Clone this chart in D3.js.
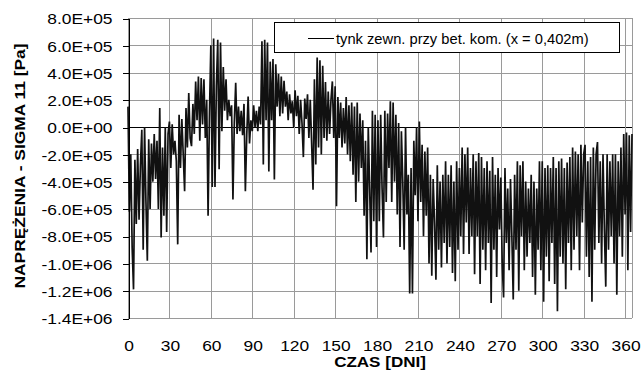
<!DOCTYPE html>
<html>
<head>
<meta charset="utf-8">
<script src="https://cdn.jsdelivr.net/npm/d3@7"></script>
<style>
  body { margin: 0; background: #fff; }
  text { font-family: "Liberation Sans", Arial, sans-serif; fill: #000; }
</style>
</head>
<body>
<div id="chart"></div>
<script>
// stress sigma 11, one reading per day (day = index), in units of 1e5 Pa
const sigmaE5 = [
  1.5, -6.2, -2.0, -8.8, -11.9, -2.4, -7.1, -1.6, -6.8, -2.8,
  -0.2, -9.0, 0.0, -5.5, -9.8, -0.9, -6.0, -1.2, -4.0, -0.5,
  -3.8, -1.0, -6.0, 1.4, -8.1, -1.5, -6.5, 0.0, -7.7, -0.5,
  0.4, -3.0, 0.2, -2.0, -1.0, -2.5, -8.6, 0.9, -3.0, 0.6,
  -2.0, -4.7, 1.4, -1.5, 2.5, -0.8, -1.4, 1.7, -0.5, 3.35,
  0.5, 3.7, -1.0, 3.6, 0.2, 3.5, -0.8, 2.0, -6.5, 1.0,
  6.0, -4.4, 6.5, -4.4, 3.0, 6.4, -3.1, 6.2, -0.3, 4.4,
  1.2, 3.5, 0.5, 2.0, 0.8, 1.6, -5.3, 0.3, 3.25, -0.5,
  1.5, -0.3, 1.2, -0.6, 1.7, -4.7, -0.6, 2.25, -1.2, 0.5,
  -0.3, 1.6, 0.0, 1.2, -0.3, 1.5, 0.2, 6.3, -2.75, 6.4,
  0.5, 6.2, -3.25, 4.8, 0.5, 5.0, -3.85, 4.6, 1.5, 3.9,
  0.8, 3.7, 1.0, 3.4, 1.5, 2.6, 0.5, 2.4, 1.0, 1.9,
  0.0, 2.7, 0.8, 2.3, -0.5, 2.0, 0.3, -2.2, 2.1, 0.6,
  2.4, -0.8, 2.0, -1.2, -4.6, 3.5, -2.75, 5.1, -1.5, 4.9,
  -2.0, 4.5, -0.8, 3.3, -1.0, 2.6, -0.5, 2.0, 3.35, -0.8,
  3.0, -5.8, 2.2, -0.8, 1.8, -1.5, 1.4, -1.2, 2.2, -2.0,
  1.6, -2.5, 1.8, -3.5, 1.5, -5.5, 1.8, -4.0, 1.0, -3.0,
  0.5, -6.5, -1.0, -9.7, 0.0, -4.5, -9.2, 1.2, -6.9, 0.9,
  -8.8, 0.5, -6.9, 0.9, -4.5, -8.1, 1.2, -5.5, 1.0, -3.0,
  1.9, -5.5, 1.8, -4.0, 0.9, -6.4, 0.3, -8.8, -0.3, -4.0,
  -9.0, 0.0, -6.4, -3.5, -12.2, -3.0, -12.2, -1.0, -5.0, 0.0,
  -6.9, 0.4, -5.5, -1.3, -8.0, -1.8, -6.5, -1.5, -10.0, -3.5,
  -10.9, -3.8, -7.0, -11.2, -2.8, -9.0, -4.0, -10.3, -3.5, -8.5,
  -2.5, -10.0, -3.5, -8.8, -2.8, -10.7, -4.0, -11.3, -2.5, -9.0,
  -3.0, -8.0, -1.5, -9.3, -2.0, -7.0, -1.5, -9.3, -3.0, -8.0,
  -2.0, -10.8, -2.5, -8.0, -1.9, -11.5, -2.2, -9.0, -3.0, -10.5,
  -2.5, -8.5, -3.2, -12.9, -2.2, -9.0, -3.5, -11.0, -3.0, -7.5,
  -3.7, -10.0, -12.5, -3.0, -8.5, -4.5, -10.5, -3.8, -8.0, -12.65,
  -3.5, -9.0, -2.5, -12.0, -2.8, -8.0, -2.5, -10.5, -4.0, -9.5,
  -4.5, -8.5, -3.5, -11.0, -4.0, -12.3, -4.5, -9.0, -2.5, -10.5,
  -2.5, -12.8, -3.0, -9.5, -2.8, -11.3, -3.0, -8.5, -2.2, -11.5,
  -3.0, -13.5, -2.5, -9.5, -2.3, -10.0, -3.0, -11.9, -2.6, -8.5,
  -2.2, -10.5, -1.5, -9.0, -1.8, -8.0, -2.0, -10.5, -1.3, -7.0,
  -2.0, -1.3, -9.5, -2.5, -11.0, -2.2, -12.8, -1.5, -9.0, -2.0,
  -1.1, -8.5, -2.5, -10.0, -2.0, -7.5, -11.7, -2.0, -9.0, -2.5,
  -8.0, -2.0, -10.0, -2.0, -12.3, -2.5, -8.0, -1.5, -9.5, -0.5,
  -6.4, -0.4, -10.5, -0.6, -7.7, -0.5
];

const xTicks = [0, 30, 60, 90, 120, 150, 180, 210, 240, 270, 300, 330, 360];
const yTicks = [-1.4e6, -1.2e6, -1.0e6, -8e5, -6e5, -4e5, -2e5, 0, 2e5, 4e5, 6e5, 8e5];
const seriesName = 'tynk zewn. przy bet. kom. (x = 0,402m)';
const xTitle = 'CZAS [DNI]';
const yTitle = 'NAPRĘŻENIA - SIGMA 11 [Pa]';

const W = 643, H = 377;
const plotL = 128, plotR = 632, plotT = 18, plotB = 318;
const stretch = 1.2; // text in the original is drawn wide

const x = d3.scaleLinear().domain([0, 365]).range([plotL, plotR]);
const y = d3.scaleLinear().domain([-1.4e6, 8e5]).range([plotB, plotT]);

function sci(v) {
  if (v === 0) return '0.0E+00';
  const e = Math.floor(Math.log10(Math.abs(v)) + 1e-9);
  const m = v / Math.pow(10, e);
  return m.toFixed(1) + 'E+' + String(e).padStart(2, '0');
}

const svg = d3.select('#chart').append('svg')
  .attr('width', W)
  .attr('height', H);

// grid
const grid = svg.append('g').attr('shape-rendering', 'crispEdges');
grid.selectAll('line.h')
  .data(yTicks)
  .enter().append('line')
  .attr('x1', plotL).attr('x2', plotR)
  .attr('y1', d => y(d) + 0.5).attr('y2', d => y(d) + 0.5)
  .attr('stroke', d => d === 0 ? '#000' : '#9a9a9a');
grid.selectAll('line.v')
  .data(xTicks.concat([365]))
  .enter().append('line')
  .attr('x1', d => x(d) + 0.5).attr('x2', d => x(d) + 0.5)
  .attr('y1', plotT).attr('y2', plotB)
  .attr('stroke', '#9a9a9a');

// series
const line = d3.line()
  .x((d, i) => x(i))
  .y(d => y(d * 1e5));
svg.append('path')
  .datum(sigmaE5)
  .attr('d', line)
  .attr('fill', 'none')
  .attr('stroke', '#111')
  .attr('stroke-width', 1.7)
  .attr('stroke-linejoin', 'bevel');

// y axis
const yAxis = svg.append('g')
  .attr('transform', `translate(${plotL + 0.5},0.5)`)
  .attr('shape-rendering', 'crispEdges')
  .call(d3.axisLeft(y).tickValues(yTicks).tickFormat(sci).tickSize(6).tickSizeOuter(0));
yAxis.select('.domain').attr('stroke', '#000');
yAxis.selectAll('text')
  .attr('x', null).attr('dy', '0.36em')
  .attr('transform', `translate(-16,0) scale(${stretch},1)`)
  .style('font-size', '14.5px')
  .style('font-family', '"Liberation Sans", Arial, sans-serif');

// x axis labels
const xAxis = svg.append('g')
  .attr('transform', `translate(0,${plotB})`)
  .call(d3.axisBottom(x).tickValues(xTicks).tickSize(0).tickFormat(d3.format('d')));
xAxis.select('.domain').remove();
xAxis.selectAll('text')
  .attr('y', null).attr('dy', null)
  .attr('transform', `translate(0.5,32.5) scale(${stretch},1)`)
  .style('font-size', '14.5px')
  .style('font-family', '"Liberation Sans", Arial, sans-serif');

// titles
svg.append('text')
  .attr('transform', `translate(380,366.5) scale(${stretch},1)`)
  .attr('text-anchor', 'middle')
  .style('font-size', '14.2px')
  .style('font-weight', 'bold')
  .text(xTitle);
svg.append('text')
  .attr('transform', `translate(25,166) rotate(-90) scale(${stretch},1)`)
  .attr('text-anchor', 'middle')
  .style('font-size', '14.5px')
  .style('font-weight', 'bold')
  .text(yTitle);

// legend
const legend = svg.append('g');
legend.append('rect')
  .attr('x', 274.5).attr('y', 22.5)
  .attr('width', 345).attr('height', 30)
  .attr('fill', '#fff').attr('stroke', '#000');
legend.append('line')
  .attr('x1', 308).attr('x2', 334)
  .attr('y1', 38.5).attr('y2', 38.5)
  .attr('stroke', '#000');
legend.append('text')
  .attr('x', 336).attr('y', 43.5)
  .style('font-size', '14.7px')
  .text(seriesName);
</script>
</body>
</html>
